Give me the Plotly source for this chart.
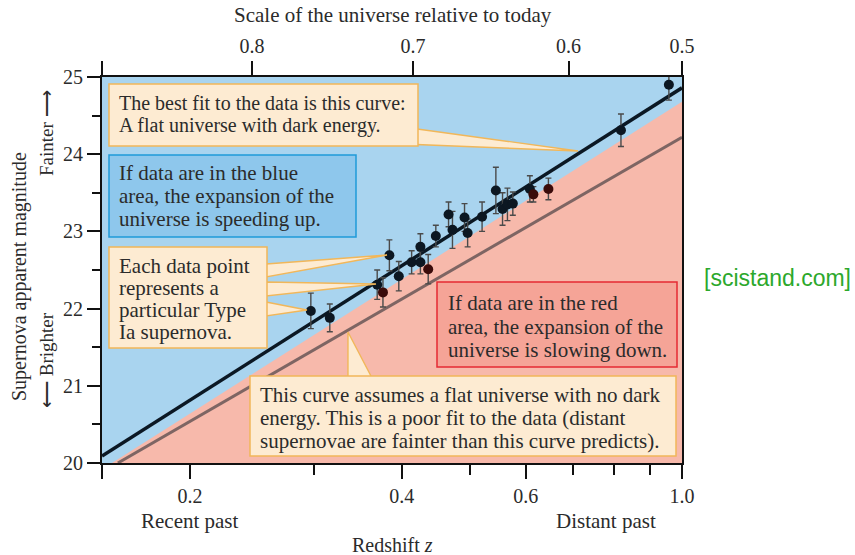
import plotly.graph_objects as go
import math

# ---------------- data ----------------
sn_z = [0.297, 0.316, 0.369, 0.376, 0.384, 0.396, 0.413, 0.425, 0.425, 0.436,
        0.447, 0.466, 0.472, 0.491, 0.496, 0.520, 0.544, 0.556, 0.565, 0.575,
        0.608, 0.615, 0.646, 0.819, 0.958]
sn_m = [21.97, 21.88, 22.31, 22.21, 22.69, 22.42, 22.60, 22.80, 22.60, 22.51,
        22.94, 23.22, 23.02, 23.18, 22.98, 23.19, 23.53, 23.29, 23.35, 23.36,
        23.55, 23.48, 23.55, 24.31, 24.90]
sn_err = [0.23, 0.18, 0.19, 0.19, 0.20, 0.19, 0.15, 0.17, 0.15, 0.19,
          0.14, 0.16, 0.24, 0.18, 0.18, 0.19, 0.30, 0.21, 0.21, 0.15,
          0.17, 0.10, 0.14, 0.21, 0.20]
sn_in_red = [False, False, False, True, False, False, False, False, False, True,
             False, False, False, False, False, False, False, False, False, False,
             False, True, True, False, False]

fit_z = [0.15, 1.0]          # flat universe with dark energy
fit_m = [20.09, 24.86]
nodark_z = [0.158, 1.0]      # flat universe, no dark energy
nodark_m = [20.0, 24.22]
red_z = [0.155, 1.0, 1.0]    # decelerating region boundary
red_m = [20.0, 24.68, 20.0]

x_range_z = [0.15, 1.0]
y_range = [20, 25]
bottom_tick_z = [0.15, 0.2, 0.4, 0.6, 1.0]
bottom_tick_text = ["", "0.2", "0.4", "0.6", "1.0"]
bottom_minor_z = [0.3, 0.5, 0.7, 0.8, 0.9]
top_tick_z = [0.15, 0.245, 0.415, 0.69, 1.0]
top_tick_text = ["", "0.8", "0.7", "0.6", "0.5"]

box1_lines = ["The best fit to the data is this curve:", "A flat universe with dark energy."]
box2_lines = ["If data are in the blue", "area, the expansion of the", "universe is speeding up."]
box3_lines = ["Each data point", "represents a", "particular Type", "Ia supernova."]
box4_lines = ["If data are in the red", "area, the expansion of the", "universe is slowing down."]
box5_lines = ["This curve assumes a flat universe with no dark",
              "energy. This is a poor fit to the data (distant",
              "supernovae are fainter than this curve predicts)."]

# ---------------- layout helpers ----------------
W, H = 855, 555
L, R, T, B = 102, 682, 77, 463
def px(x):
    return (x - L) / (R - L)
def py(y):
    return (B - y) / (B - T)

SERIF = "Liberation Serif"
TXT = "#2b2b2b"

fig = go.Figure()

fig.add_trace(go.Scatter(x=red_z, y=red_m, fill="toself", mode="none",
                         fillcolor="#f7b9ab", hoverinfo="skip", showlegend=False))
fig.add_trace(go.Scatter(x=nodark_z, y=nodark_m, mode="lines",
                         line=dict(color="#7e6563", width=3), showlegend=False))
fig.add_trace(go.Scatter(x=fit_z, y=fit_m, mode="lines",
                         line=dict(color="#0b1824", width=3.5), showlegend=False))
colors = ["#3a0b0a" if r else "#0c1722" for r in sn_in_red]
fig.add_trace(go.Scatter(x=sn_z, y=sn_m, mode="markers",
                         marker=dict(size=10, color=colors),
                         error_y=dict(type="data", array=sn_err, color="#4a4a4a",
                                      thickness=1.4, width=3),
                         showlegend=False))
fig.add_trace(go.Scatter(x=x_range_z, y=y_range, xaxis="x2", mode="markers",
                         marker=dict(opacity=0), hoverinfo="skip", showlegend=False))

lx = [math.log10(v) for v in x_range_z]
TICKF = dict(family=SERIF, size=20, color=TXT)
fig.update_layout(
    width=W, height=H,
    margin=dict(l=L, r=W - R, t=T, b=H - B),
    paper_bgcolor="white", plot_bgcolor="#a9d4ef",
    xaxis=dict(type="log", range=lx, tickvals=bottom_tick_z, ticktext=bottom_tick_text,
               ticks="outside", ticklen=14, tickwidth=1.6, tickcolor="#111",
               minor=dict(tickvals=bottom_minor_z, ticks="outside", ticklen=10,
                          tickwidth=1.6, tickcolor="#111", showgrid=False),
               showline=True, linecolor="#111", linewidth=1.8, showgrid=False,
               zeroline=False, tickfont=TICKF),
    xaxis2=dict(type="log", range=lx, overlaying="x", side="top",
                tickvals=top_tick_z, ticktext=top_tick_text,
                ticks="outside", ticklen=14, tickwidth=1.6, tickcolor="#111",
                showline=True, linecolor="#111", linewidth=1.8, showgrid=False,
                zeroline=False, tickfont=TICKF),
    yaxis=dict(range=y_range, tickvals=[20, 21, 22, 23, 24, 25],
               ticks="outside", ticklen=13, tickwidth=1.6, tickcolor="#111",
               minor=dict(dtick=0.5, ticks="outside", ticklen=8, tickwidth=1.6,
                          tickcolor="#111", showgrid=False),
               showline=True, linecolor="#111", linewidth=1.8, showgrid=False,
               zeroline=False, mirror=True, tickfont=TICKF),
)

PEACH = "#fdebd2"
ORANGE = "#f1b75a"
shapes = []
def wedge(pts):
    path = "M " + " L ".join(f"{px(a):.4f},{py(b):.4f}" for a, b in pts) + " Z"
    shapes.append(dict(type="path", xref="paper", yref="paper", path=path,
                       fillcolor=PEACH, line=dict(color=ORANGE, width=1.4), layer="above"))
def box(x0, y0, x1, y1, fill, border):
    shapes.append(dict(type="rect", xref="paper", yref="paper",
                       x0=px(x0), x1=px(x1), y0=py(y1), y1=py(y0),
                       fillcolor=fill, line=dict(color=border, width=1.5), layer="above"))

wedge([(410, 128), (578, 151), (404, 144)])
wedge([(266, 264), (387, 255), (266, 277)])
wedge([(266, 282), (376, 284), (266, 296)])
wedge([(266, 302), (307, 310), (266, 316)])
wedge([(348, 378), (348, 332), (372, 378)])

box(109, 84, 418, 146, PEACH, ORANGE)
box(109, 155, 356, 237, "#8ec7ec", "#1f9bd9")
box(109, 247, 267, 348, PEACH, ORANGE)
box(437, 282, 677, 367, "#f5a497", "#e52a33")
box(250, 376, 676, 456, PEACH, ORANGE)
fig.update_layout(shapes=shapes)

ann = []
def text(x, y, s, size=20, color=TXT, family=SERIF, xanchor="left", yanchor="middle", angle=0):
    ann.append(dict(x=px(x), y=py(y), xref="paper", yref="paper", text=s, showarrow=False,
                    xanchor=xanchor, yanchor=yanchor, align="left" if xanchor == "left" else "center",
                    textangle=angle, font=dict(family=family, size=size, color=color)))
def block(x, y0, lines, step, size):
    for i, s in enumerate(lines):
        text(x, y0 + i * step, s, size=size)

block(117, 103, box1_lines, 22.5, 20)
block(117, 173, box2_lines, 23, 21)
block(117, 266, box3_lines, 22, 21)
block(446, 303, box4_lines, 23.5, 21)
block(258, 395, box5_lines, 23, 21)

text(393, 15, "Scale of the universe relative to today", size=21, xanchor="center")
text(393, 545, "Redshift <i>z</i>", size=20, xanchor="center")
text(190, 521, "Recent past", size=21, xanchor="center")
text(606, 521, "Distant past", size=21, xanchor="center")
text(19, 277, "Supernova apparent magnitude", size=20, xanchor="center", angle=-90)
text(46, 133, "Fainter \u27f6", size=19, xanchor="center", angle=-90)
text(46, 360, "\u27f5 Brighter", size=19, xanchor="center", angle=-90)
text(777, 278, "[scistand.com]", size=23, color="#2ca82c", family="Liberation Sans",
     xanchor="center")
fig.update_layout(annotations=ann)

fig.write_html("out.html")
